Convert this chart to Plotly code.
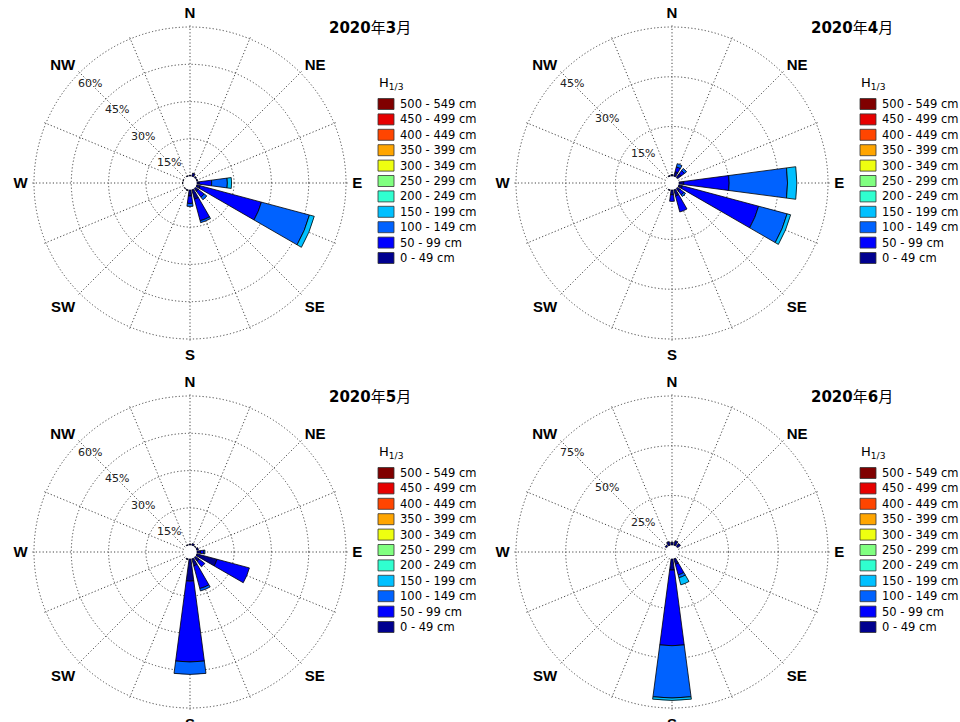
import math
import plotly.graph_objects as go

# ---------------- data ----------------
directions = ['N', 'NNE', 'NE', 'ENE', 'E', 'ESE', 'SE', 'SSE',
              'S', 'SSW', 'SW', 'WSW', 'W', 'WNW', 'NW', 'NNW']
direction_deg = [0, 22.5, 45, 67.5, 90, 112.5, 135, 157.5,
                 180, 202.5, 225, 247.5, 270, 292.5, 315, 337.5]
compass_labels = ['N', '', 'NE', '', 'E', '', 'SE', '',
                  'S', '', 'SW', '', 'W', '', 'NW', '']

classes = ['0 - 49 cm', '50 - 99 cm', '100 - 149 cm', '150 - 199 cm',
           '200 - 249 cm', '250 - 299 cm', '300 - 349 cm', '350 - 399 cm',
           '400 - 449 cm', '450 - 499 cm', '500 - 549 cm']

title_years = ['2020', '2020', '2020', '2020']
title_months = ['3', '4', '5', '6']

#                N    NNE  NE   ENE  E     ESE   SE   SSE  S    SSW  SW   WSW  W    WNW  NW   NNW
mar_0_49     = [0.4, 1.4, 0.6, 0.5, 1.0,  1.5,  1.5, 4.0, 2.5, 0.5, 0.2, 0,   0.3, 0.2, 0,   0.3]
mar_50_99    = [0,   0,   0,   0,   5.0,  25.5, 3.0, 9.0, 3.0, 0,   0,   0,   0,   0,   0,   0]
mar_100_149  = [0,   0,   0,   0,   6.3,  20.0, 1.3, 0.8, 1.2, 0,   0,   0,   0,   0,   0,   0]
mar_150_199  = [0,   0,   0,   0,   1.7,  2.0,  0,   0,   0,   0,   0,   0,   0,   0,   0,   0]

apr_0_49     = [0.5, 1.5, 1.5, 0,   1.5,  1.2,  1.0, 2.0, 1.5, 0.3, 0,   0,   0,   0,   0,   0.3]
apr_50_99    = [0,   1.5, 1.2, 0,   13.7, 23.8, 1.5, 5.0, 2.0, 0,   0,   0,   0,   0,   0,   0]
apr_100_149  = [0,   1.0, 0.8, 0,   17.6, 8.9,  0.6, 0,   0,   0,   0,   0,   0,   0,   0,   0]
apr_150_199  = [0,   0,   0,   0,   2.8,  1.1,  0,   0,   0,   0,   0,   0,   0,   0,   0,   0]

may_0_49     = [0.5, 0.8, 0.3, 0.8, 1.5,  8.5,  2.0, 3.0, 9.0, 0.5, 0,   0,   0,   0,   0,   0.3]
may_50_99    = [0,   0,   0,   0,   1.3,  13.5, 2.8, 9.5, 32.5, 0,  0,   0,   0,   0,   0,   0]
may_100_149  = [0,   0,   0,   0,   0.5,  0,    0,   1.0, 5.0, 0,   0,   0,   0,   0,   0,   0]
may_150_199  = [0,   0,   0,   0,   0,    0,    0,   0,   0,   0,   0,   0,   0,   0,   0,   0]

jun_0_49     = [1.5, 2.5, 2.0, 0,   0,    0,    0,   3.0, 5.7, 0,   0,   0,   0,   0,   1.0, 2.0]
jun_50_99    = [0,   0,   0,   0,   0,    0,    0,   5.5, 38.0, 0,  0,   0,   0,   0,   0,   0]
jun_100_149  = [0,   0,   0,   0,   0,    0,    0,   1.5, 26.3, 0,  0,   0,   0,   0,   0,   0]
jun_150_199  = [0,   0,   0,   0,   0,    0,    0,   3.7, 1.2, 0,   0,   0,   0,   0,   0,   0]

no_data = [0] * 16   # classes 200 cm and above: no observations

panel_values = [
    [mar_0_49, mar_50_99, mar_100_149, mar_150_199],
    [apr_0_49, apr_50_99, apr_100_149, apr_150_199],
    [may_0_49, may_50_99, may_100_149, may_150_199],
    [jun_0_49, jun_50_99, jun_100_149, jun_150_199],
]

radial_ticks = [[15, 30, 45, 60], [15, 30, 45], [15, 30, 45, 60], [25, 50, 75]]

# ---------------- styles ----------------
class_colors = ['#00008F', '#0000FF', '#0062FF', '#00C0FF', '#30FFD0',
                '#80FF80', '#EEFF10', '#FFA500', '#FF4500', '#E60000', '#800000']

W, H = 960, 722
R_RING = 156          # pixel radius of the outermost ring
PAD = 1.012           # radial range padding so the outer ring is drawn
HOLE = 0.043
R = R_RING / (HOLE + (1 - HOLE) / PAD)   # domain half-size
centers = [(190, 183), (672, 183), (190, 552), (672, 552)]
GRID = dict(showgrid=True, gridcolor='#444444', gridwidth=1, griddash='1.2px,2.2px')
LABEL_ANGLE = math.radians(135)   # radial labels along the NW spoke
LABEL_INSET = 15                  # labels sit just inside their ring

fig = go.Figure()
shapes = []
annotations = []

for p in range(4):
    pid = 'polar' if p == 0 else f'polar{p + 1}'
    series = panel_values[p] + [no_data] * (len(classes) - 4)
    for c, vals in enumerate(series):
        r = [v if v > 0 else None for v in vals]
        fig.add_trace(go.Barpolar(
            r=r, theta=direction_deg, width=15, name=classes[c],
            marker=dict(color=class_colors[c], line=dict(color='#000000', width=0.8)),
            subplot=pid, showlegend=False,
            hovertext=directions,
        ))

    cx, cy = centers[p]
    rmax = radial_ticks[p][-1]
    rrange = rmax * PAD
    fig.update_layout(**{pid: dict(
        domain=dict(x=[(cx - R) / W, (cx + R) / W],
                    y=[1 - (cy + R) / H, 1 - (cy - R) / H]),
        bgcolor='white',
        hole=HOLE,
        barmode='stack',
        angularaxis=dict(
            rotation=90, direction='clockwise',
            tickmode='array', tickvals=direction_deg,
            ticktext=[f'<b>{t}</b>' if t else '' for t in compass_labels],
            tickfont=dict(family='Liberation Sans, Arial, sans-serif', size=15, color='#000000'),
            ticks='outside', ticklen=1, tickcolor='rgba(0,0,0,0)', showline=False,
            **GRID,
        ),
        radialaxis=dict(
            range=[0, rrange], tickmode='array', tickvals=radial_ticks[p],
            showticklabels=False, showline=False, ticks='',
            layer='below traces',
            **GRID,
        ),
    )})

    # radial ring labels, placed along the NW spoke just inside each ring
    for t in radial_ticks[p]:
        rpx = HOLE * R + (t / rrange) * (R - HOLE * R) - LABEL_INSET
        xl = cx + rpx * math.cos(LABEL_ANGLE)
        yl = cy - rpx * math.sin(LABEL_ANGLE)
        annotations.append(dict(
            x=xl / W, y=1 - yl / H, xref='paper', yref='paper',
            text=f'{t}%', showarrow=False, xanchor='center', yanchor='middle',
            font=dict(family='DejaVu Sans, sans-serif', size=11, color='#222222'),
        ))

    # title
    annotations.append(dict(
        x=(cx + 180) / W, y=1 - (cy - 155) / H, xref='paper', yref='paper',
        text=f'<b>{title_years[p]}</b>年<b>{title_months[p]}</b>月',
        showarrow=False, xanchor='center', yanchor='middle',
        font=dict(family='DejaVu Sans, Noto Sans CJK SC, sans-serif', size=15, color='#000000'),
    ))
    # legend title
    annotations.append(dict(
        x=(cx + 187) / W, y=1 - (cy - 100) / H, xref='paper', yref='paper',
        text='H<sub>1/3</sub>', showarrow=False, xanchor='left', yanchor='middle',
        font=dict(family='DejaVu Sans, sans-serif', size=13, color='#000000'),
    ))
    # legend entries (top: highest class)
    for k in range(len(classes)):
        c = len(classes) - 1 - k
        yc = cy - 79 + k * 15.4
        shapes.append(dict(
            type='rect', xref='paper', yref='paper',
            x0=(cx + 188) / W, x1=(cx + 204) / W,
            y0=1 - (yc + 5.5) / H, y1=1 - (yc - 5.5) / H,
            fillcolor=class_colors[c], line=dict(color='#333333', width=0.8),
        ))
        annotations.append(dict(
            x=(cx + 208) / W, y=1 - yc / H, xref='paper', yref='paper',
            text=classes[c], showarrow=False, xanchor='left', yanchor='middle',
            font=dict(family='DejaVu Sans, sans-serif', size=11.5, color='#000000'),
        ))

fig.update_layout(
    width=W, height=H,
    margin=dict(l=0, r=0, t=0, b=0),
    paper_bgcolor='white', plot_bgcolor='white',
    showlegend=False,
    shapes=shapes, annotations=annotations,
)

fig.write_html('out.html', config={'displayModeBar': False},
               post_script="document.body.style.margin='0';document.body.style.padding='0';")
